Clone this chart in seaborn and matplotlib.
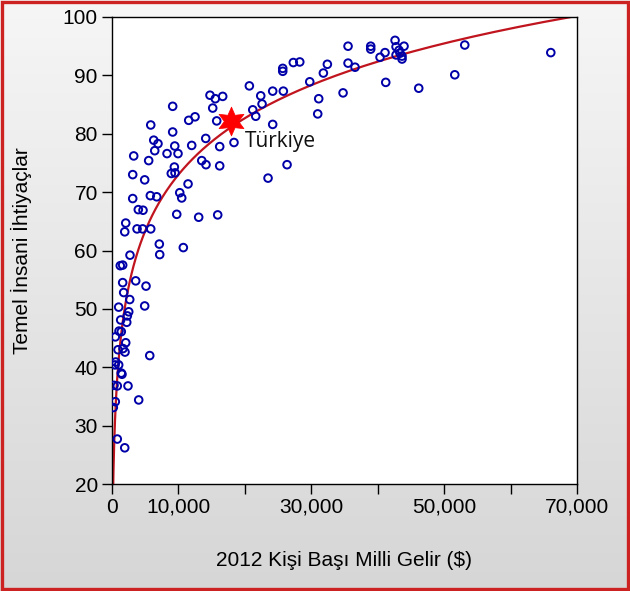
import numpy as np
import pandas as pd
import matplotlib
matplotlib.use("Agg")
import matplotlib.pyplot as plt
import seaborn as sns
from matplotlib.colors import LinearSegmentedColormap
from matplotlib.patches import Rectangle

# ---- data ----
gni = [35540, 35540, 36590, 34790, 38950, 38950, 41100, 40350, 42610, 42760,
       43960, 43210, 42760, 43660, 43660, 43360, 41210, 46170, 53090, 51590,
       66030, 32430, 31830, 29780, 27310, 28280, 25720, 25720, 20700, 22410,
       22610, 21210, 21660, 24210, 25810, 31130, 30980, 24210, 26370, 23510,
       18390, 16240, 16240, 14140, 12030, 13540, 14180, 14780, 15580, 16690,
       15190, 15790, 11580, 12530, 9170, 5870, 9170, 6320, 6960, 6470,
       9480, 8320, 9970, 3310, 5560, 9420, 8960, 9520, 3160, 4960,
       11480, 10230, 10530, 5810, 6770, 3160, 4000, 4710, 9780, 13080,
       15940, 2110, 1960, 3810, 4660, 5870, 7160, 10770, 7220, 2750,
       1290, 1650, 1650, 3610, 5160, 1800, 2710, 1050, 4960, 2560,
       2350, 1350, 2260, 1100, 1440, 540, 2110, 950, 1700, 2000,
       5720, 600, 500, 1050, 1440, 1550, 350, 840, 2450, 540,
       4060, 240, 840, 1960]
bhn = [95.0, 92.1, 91.4, 87.0, 95.0, 94.5, 93.9, 93.1, 96.0, 94.9,
       95.0, 94.3, 93.5, 93.3, 92.8, 93.8, 88.8, 87.8, 95.2, 90.1,
       93.9, 91.9, 90.4, 88.9, 92.2, 92.3, 91.2, 90.7, 88.2, 86.5,
       85.1, 84.1, 83.0, 87.3, 87.3, 86.0, 83.4, 81.6, 74.7, 72.4,
       78.5, 77.8, 74.5, 79.2, 78.0, 75.4, 74.7, 86.6, 86.0, 86.4,
       84.4, 82.2, 82.3, 82.9, 84.7, 81.5, 80.3, 78.9, 78.3, 77.1,
       77.9, 76.6, 76.6, 76.2, 75.4, 74.3, 73.2, 73.3, 73.0, 72.1,
       71.4, 69.9, 69.0, 69.4, 69.2, 68.9, 67.0, 66.9, 66.2, 65.7,
       66.1, 64.7, 63.2, 63.7, 63.7, 63.7, 61.1, 60.5, 59.3, 59.2,
       57.4, 57.5, 54.5, 54.8, 53.9, 52.8, 51.6, 50.3, 50.5, 49.5,
       48.8, 48.1, 47.7, 46.2, 46.1, 45.2, 44.2, 43.0, 43.2, 42.6,
       42.0, 40.9, 40.4, 40.4, 39.0, 38.8, 36.9, 36.8, 36.8, 34.1,
       34.4, 33.1, 27.7, 26.2]

turkey_name = "Türkiye"
turkey_gni = [17940]
turkey_bhn = [82.2]

# logarithmic trend line  y = a + b*ln(x), coefficients
trend_a = -56.0
trend_b = 14.0

x_ticks = [0, 10000, 20000, 30000, 40000, 50000, 60000, 70000]
x_tick_labels = ["0", "10,000", "", "30,000", "", "50,000", "", "70,000"]
y_ticks = [20, 30, 40, 50, 60, 70, 80, 90, 100]

x_label = "2012 Kişi Başı Milli Gelir ($)"
y_label = "Temel İnsani İhtiyaçlar"

df = pd.DataFrame({"gni": gni, "bhn": bhn})
xs = np.geomspace(180, 70000, 400)
trend = pd.DataFrame({"gni": xs, "bhn": trend_a + trend_b * np.log(xs)})

# ---- figure ----
sns.set_theme(style="white")
plt.rcParams["font.family"] = ["Liberation Sans", "DejaVu Sans"]

fig = plt.figure(figsize=(6.30, 5.91), dpi=100)

# gradient background
bg = fig.add_axes([0, 0, 1, 1], zorder=-10)
grad = np.linspace(0, 1, 256).reshape(-1, 1)
cmap = LinearSegmentedColormap.from_list("bg", ["#F6F6F6", "#D6D6D6"])
bg.imshow(grad, aspect="auto", cmap=cmap, extent=[0, 1, 0, 1])
bg.set_axis_off()
fig.patches.append(Rectangle((0.0025, 0.003), 0.995, 0.994, transform=fig.transFigure,
                             fill=False, edgecolor="#CC2222", linewidth=2.4, zorder=10))

ax = fig.add_axes([111.7 / 630, 1 - 484 / 591, 465.5 / 630, 467 / 591])
ax.set_facecolor("white")

sns.lineplot(data=trend, x="gni", y="bhn", ax=ax, color="#C0141E", linewidth=1.6,
             zorder=2, sort=False)
sns.scatterplot(data=df, x="gni", y="bhn", ax=ax, marker="o", s=30,
                facecolors="none", edgecolor="#0000A8", linewidth=1.4, zorder=3)
sns.scatterplot(x=turkey_gni, y=turkey_bhn, ax=ax, marker=(6, 1, 0), s=430,
                color="#FF0000", edgecolor="#FF0000", linewidth=0.5, zorder=4)
ax.text(20100, 78.6, turkey_name, fontsize=15, va="center", ha="left",
        family=["Open Sans", "DejaVu Sans"], color="#111111", zorder=5)

ax.set_xlim(0, 70000)
ax.set_ylim(20, 100)
ax.set_xticks(x_ticks)
ax.set_xticklabels(x_tick_labels)
ax.set_yticks(y_ticks)
ax.tick_params(axis="both", direction="out", length=7, width=1, color="black",
               labelsize=15, labelcolor="black", pad=3, bottom=True, left=True)
for sp in ax.spines.values():
    sp.set_color("black")
    sp.set_linewidth(1.0)

ax.set_xlabel(x_label, fontsize=15, color="black")
ax.set_ylabel(y_label, fontsize=15, color="black")
ax.xaxis.set_label_coords(0.5, -0.143)
ax.yaxis.set_label_coords(-0.172, 0.5)

fig.savefig("out.png", dpi=100)
